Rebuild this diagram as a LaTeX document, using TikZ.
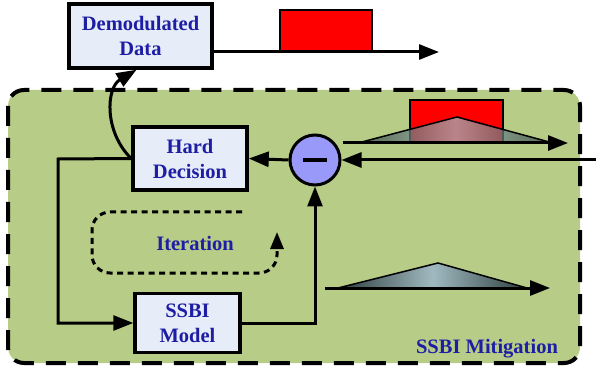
\documentclass[tikz,border=0pt]{standalone}
\usepackage{fontspec}
\setmainfont{Liberation Serif}
\usetikzlibrary{arrows.meta,calc}
\definecolor{zonegreen}{RGB}{183,204,135}
\definecolor{boxfill}{RGB}{230,236,248}
\definecolor{labelblue}{RGB}{30,30,165}
\definecolor{minusfill}{RGB}{153,153,250}
\definecolor{pulsered}{RGB}{255,0,0}
\definecolor{spedge}{RGB}{45,62,62}
\definecolor{spmid}{RGB}{160,185,192}
\begin{document}
\begin{tikzpicture}[x=1pt, y=-1pt,
    blockbox/.style={draw=black, line width=3.5pt, fill=boxfill, align=center,
      text=labelblue, font=\bfseries\fontsize{20.5}{25}\selectfont, inner sep=0pt},
    flow/.style={line width=3pt, -{Triangle[length=20pt,width=15pt]}},
    spectrum/.style={draw=black, line width=1.5pt, left color=spedge, right color=spedge, middle color=spmid},
    zonelabel/.style={text=labelblue, font=\bfseries\fontsize{20.5}{24}\selectfont}]
    \useasboundingbox (0,0) rectangle (596,371);

    % mitigation zone
    \draw[line width=4pt, fill=zonegreen, dash pattern=on 20pt off 12pt, rounded corners=16pt]
        (8,90) rectangle (580,363);
    \node[zonelabel] (zone) at (487,349) {SSBI Mitigation};

    % blocks
    \node[blockbox, minimum width=143pt, minimum height=64pt] (demod) at (140.5,36) {Demodulated\\Data};
    \node[blockbox, minimum width=114pt, minimum height=63pt] (hard) at (190,158.5) {Hard\\Decision};
    \node[blockbox, minimum width=105pt, minimum height=59pt] (ssbi) at (187.5,323) {SSBI\\Model};
    \node[draw=black, line width=3pt, fill=minusfill, circle, minimum size=50pt, inner sep=0pt] (minus) at (315,160) {};
    \draw[line width=4pt] ($(minus.center)+(-12,0)$) -- ($(minus.center)+(12,0)$);

    % output pulse
    \coordinate (dataout) at (212,52);
    \coordinate (dataend) at (439,52);
    \draw[draw=black, line width=1.5pt, fill=pulsered] (280,10) rectangle (372,52);
    \draw[flow] (dataout) -- (dataend);

    % received spectrum
    \coordinate (rxstart) at (343,143);
    \coordinate (rxend) at (568,143);
    \draw[draw=black, line width=1.5pt, fill=pulsered] (410,100) rectangle (503,143);
    \shade[spectrum, fill opacity=0.72] (358,143) -- (457,117) -- (553,143) -- cycle;
    \draw[flow] (rxstart) -- (rxend);

    % estimated SSBI spectrum
    \coordinate (ssbistart) at (325,288);
    \coordinate (ssbiend) at (550,288);
    \shade[spectrum] (338,288) -- (438,263) -- (527,288) -- cycle;
    \draw[flow] (ssbistart) -- (ssbiend);

    % connectors
    \coordinate (input) at (596,160);
    \coordinate (loopcorner) at (58,159);
    \draw[flow] (input) -- (minus.east);
    \draw[flow] (minus.west) -- (hard.east);
    \draw[flow] (hard.west) -- (loopcorner) |- (ssbi.west);
    \draw[flow] (ssbi.east) -| (minus.south);
    \draw[flow] (hard.west) .. controls (104,132) and (106,88) .. ($(demod.south)+(-4,0)$);

    % iteration loop
    \draw[line width=3pt, dash pattern=on 6pt off 4.5pt, rounded corners=18pt,
          -{Triangle[length=17pt,width=13pt]}]
        (242,212) -| (92,273) -| (277,232);
    \node[zonelabel] (iter) at (195,243) {Iteration};
\end{tikzpicture}
\end{document}
